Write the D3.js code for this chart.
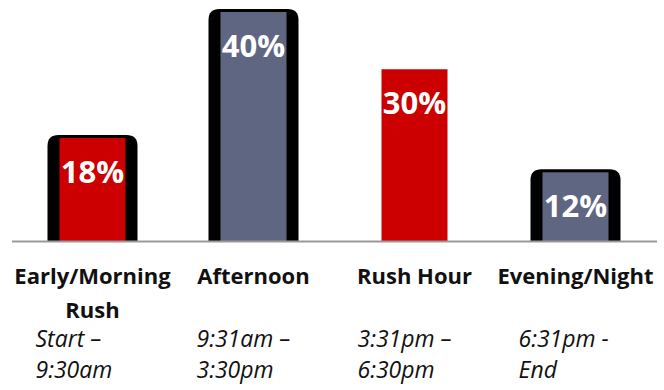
<!DOCTYPE html>
<html>
<head>
<meta charset="utf-8">
<script src="https://cdn.jsdelivr.net/npm/d3@7"></script>
<style>
  html, body { margin: 0; padding: 0; background: #fff; }
  svg { display: block; }
</style>
</head>
<body>
<svg id="chart" width="664" height="390"></svg>
<script>
// Share of trips by time of day
const periods = ["Early/Morning Rush", "Afternoon", "Rush Hour", "Evening/Night"];
const periodLines = [["Early/Morning", "Rush"], ["Afternoon"], ["Rush Hour"], ["Evening/Night"]];
const timeRanges = [["Start –", "9:30am"], ["9:31am –", "3:30pm"], ["3:31pm –", "6:30pm"], ["6:31pm -", "End"]];
const shares = [18, 40, 30, 12];

// Per-bar appearance
const barFill = ["#cc0000", "#5f6682", "#cc0000", "#5f6682"];
const barFramed = [true, true, false, true];

const font = "'Open Sans', 'Noto Sans', sans-serif";
const svg = d3.select("#chart");
const baseline = 241;

const x = d3.scaleBand()
  .domain(periods)
  .range([12, 656])
  .paddingInner(0.59)
  .paddingOuter(0.295);

const y = d3.scaleLinear()
  .domain([0, 40])
  .range([baseline, 12]);

const bw = x.bandwidth();
const rows = periods.map((p, i) => ({ p, i, v: shares[i] }));

// Dark rounded backing behind framed bars
const padX = 12, padTop = 3, r = 11;
svg.append("g").selectAll("path")
  .data(rows.filter(d => barFramed[d.i]))
  .join("path")
  .attr("fill", "#000")
  .attr("d", d => {
    const x0 = x(d.p) - padX, x1 = x(d.p) + bw + padX;
    const y0 = y(d.v) - padTop, y1 = baseline;
    return `M${x0},${y1} L${x0},${y0 + r} Q${x0},${y0} ${x0 + r},${y0} L${x1 - r},${y0} Q${x1},${y0} ${x1},${y0 + r} L${x1},${y1} Z`;
  });

// Bars
svg.append("g").selectAll("rect")
  .data(rows)
  .join("rect")
  .attr("x", d => x(d.p))
  .attr("y", d => y(d.v))
  .attr("width", bw)
  .attr("height", d => baseline - y(d.v))
  .attr("fill", d => barFill[d.i]);

// Baseline
svg.append("line")
  .attr("x1", 12).attr("x2", 657)
  .attr("y1", baseline + 0.5).attr("y2", baseline + 0.5)
  .attr("stroke", "#999").attr("stroke-width", 2);

// Value labels
svg.append("g").selectAll("text")
  .data(rows)
  .join("text")
  .attr("x", d => x(d.p) + bw / 2)
  .attr("y", d => y(d.v) + 45)
  .attr("text-anchor", "middle")
  .attr("fill", "#fff")
  .style("font-family", font)
  .style("font-weight", "bold")
  .style("font-size", "31px")
  .text(d => d.v + "%");

// Category labels
const cat = svg.append("g").selectAll("text")
  .data(rows)
  .join("text")
  .attr("text-anchor", "middle")
  .attr("fill", "#111")
  .style("font-family", font)
  .style("font-weight", "bold")
  .style("font-size", "22px");
cat.selectAll("tspan")
  .data(d => periodLines[d.i].map((t, k) => ({ t, k, d })))
  .join("tspan")
  .attr("x", o => x(o.d.p) + bw / 2)
  .attr("y", o => 284 + o.k * 34)
  .text(o => o.t);

// Time ranges
const tr = svg.append("g").selectAll("text")
  .data(rows)
  .join("text")
  .attr("fill", "#111")
  .style("font-family", font)
  .style("font-style", "italic")
  .style("font-size", "23px");
tr.selectAll("tspan")
  .data(d => timeRanges[d.i].map((t, k) => ({ t, k, d })))
  .join("tspan")
  .attr("x", o => x(o.d.p) + bw / 2 - 57)
  .attr("y", o => 347 + o.k * 31)
  .text(o => o.t);
</script>
</body>
</html>
